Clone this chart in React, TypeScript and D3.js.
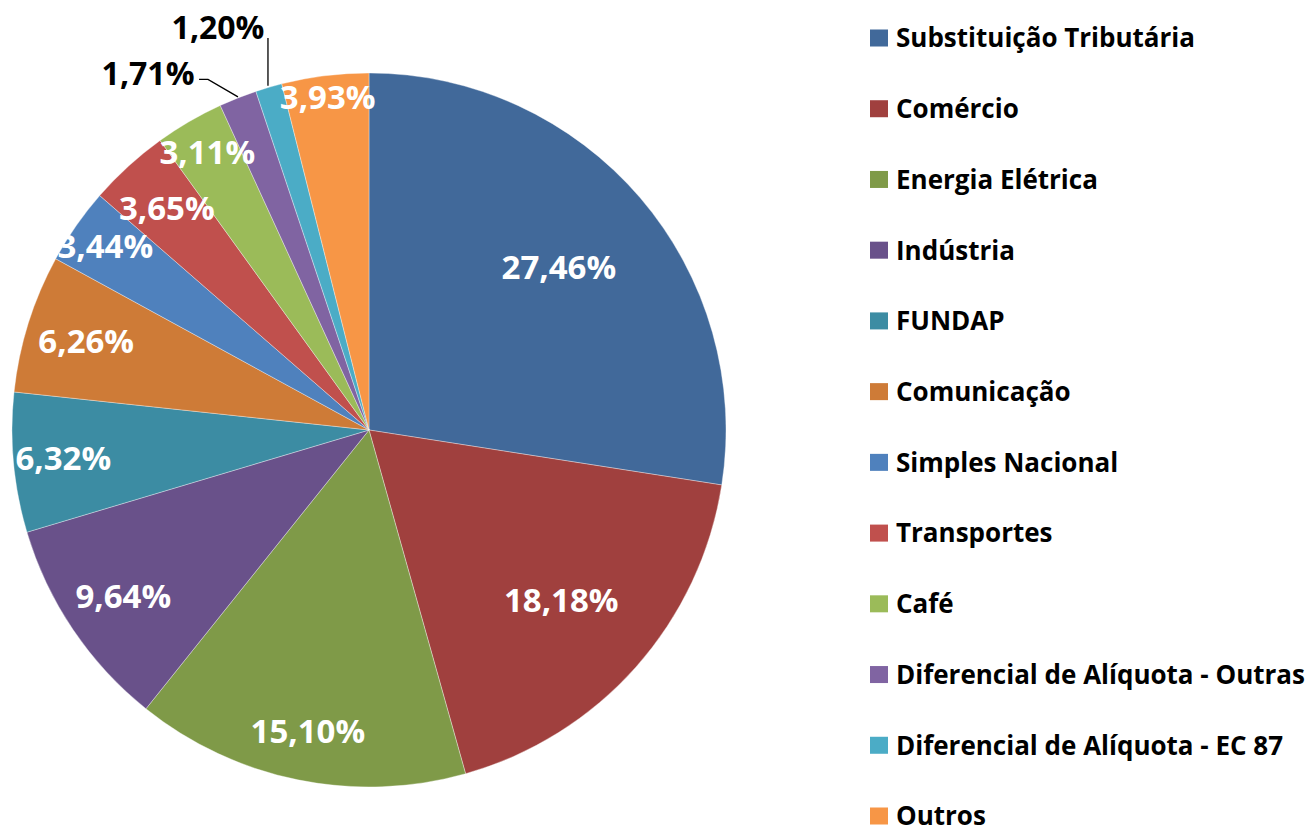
import React, { useEffect, useRef } from 'react'
import * as d3 from 'd3'

const categories = [
  'Substituição Tributária',
  'Comércio',
  'Energia Elétrica',
  'Indústria',
  'FUNDAP',
  'Comunicação',
  'Simples Nacional',
  'Transportes',
  'Café',
  'Diferencial de Alíquota - Outras',
  'Diferencial de Alíquota - EC 87',
  'Outros',
]
const values = [27.46, 18.18, 15.1, 9.64, 6.32, 6.26, 3.44, 3.65, 3.11, 1.71, 1.2, 3.93]
const colors = [
  '#41699A', '#A0403E', '#7F9A48', '#69518A', '#3C8CA3', '#CE7B37',
  '#4F81BD', '#C0504D', '#9BBB59', '#8064A2', '#4BACC6', '#F79646',
]

// label placement (fraction of radius), Excel "best fit" look
const labelRadius = [0.7, 0.72, 0.86, 0.83, 0.86, 0.83, 0.9, 0.84, 0.9, 0, 0, 0.94]
// outside labels: text centre and leader line relative to pie centre, in radii
const outside: Record<number, { tx: number; ty: number; line: [number, number][] }> = {
  9: { tx: -0.619, ty: -1.0, line: [[-0.476, -0.982], [-0.451, -0.982], [-0.367, -0.933]] },
  10: { tx: -0.423, ty: -1.128, line: [[-0.283, -1.098], [-0.283, -0.964]] },
}

const font = '"Open Sans", Lato, sans-serif'

const App = () => {
  const svgRef = useRef<SVGSVGElement>(null)

  useEffect(() => {
    const svg = d3.select(svgRef.current)
    svg.selectAll('*').remove()

    const cx = 369, cy = 430, r = 357

    const pie = d3.pie<number>().sort(null).value(d => d)
    const arcs = pie(values)
    const arc = d3.arc<d3.PieArcDatum<number>>().innerRadius(0).outerRadius(r)

    const g = svg.append('g').attr('transform', `translate(${cx},${cy})`)

    g.selectAll('path')
      .data(arcs)
      .join('path')
      .attr('d', arc)
      .attr('fill', (d, i) => colors[i])
      .attr('stroke', '#ffffff')
      .attr('stroke-opacity', 0.5)
      .attr('stroke-width', 0.7)

    const fmt = (v: number) => v.toFixed(2).replace('.', ',') + '%'

    // inside labels
    g.selectAll('text.in')
      .data(arcs.filter((d, i) => labelRadius[i] > 0))
      .join('text')
      .attr('class', 'in')
      .attr('transform', d => {
        const i = arcs.indexOf(d)
        const a = (d.startAngle + d.endAngle) / 2
        const rr = r * labelRadius[i]
        return `translate(${rr * Math.sin(a)},${-rr * Math.cos(a)})`
      })
      .attr('text-anchor', 'middle')
      .attr('dy', '0.36em')
      .attr('fill', '#ffffff')
      .style('font', `bold 33px ${font}`)
      .text(d => fmt(d.data))

    // outside labels with leader lines
    Object.entries(outside).forEach(([k, o]) => {
      const i = +k
      g.append('polyline')
        .attr('points', o.line.map(p => `${p[0] * r},${p[1] * r}`).join(' '))
        .attr('fill', 'none')
        .attr('stroke', '#000')
        .attr('stroke-width', 1.3)
      g.append('text')
        .attr('x', o.tx * r)
        .attr('y', o.ty * r)
        .attr('text-anchor', 'middle')
        .attr('dy', '0.36em')
        .attr('fill', '#000')
        .style('font', `bold 32px ${font}`)
        .text(fmt(values[i]))
    })

    // legend
    const y = d3.scalePoint<string>().domain(categories).range([38, 816])
    const leg = svg.append('g')
      .selectAll('g')
      .data(categories)
      .join('g')
      .attr('transform', d => `translate(870,${y(d)})`)
    leg.append('rect')
      .attr('x', 0).attr('y', -8.5)
      .attr('width', 18).attr('height', 17)
      .attr('fill', (d, i) => colors[i])
    leg.append('text')
      .attr('x', 26)
      .attr('dy', '0.36em')
      .attr('fill', '#000')
      .style('font', `bold 26px ${font}`)
      .text(d => d)
  }, [])

  return (
    <svg
      ref={svgRef}
      width={1316}
      height={831}
      style={{ position: 'absolute', left: 0, top: 0, background: '#fff' }}
    />
  )
}

export default App
